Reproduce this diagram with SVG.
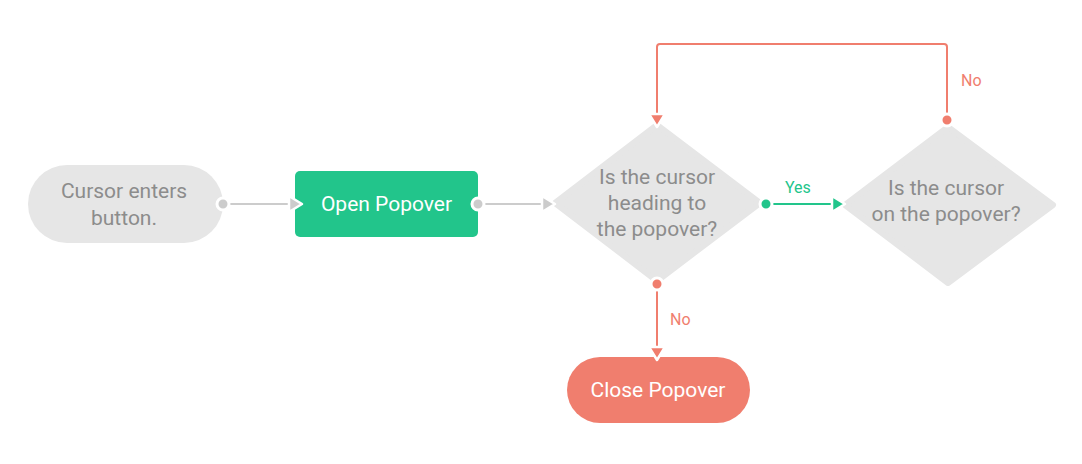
<svg xmlns="http://www.w3.org/2000/svg" width="1082" height="464" viewBox="0 0 1082 464">
<style>
.t{font-family:Roboto,"Liberation Sans",sans-serif;font-size:21px;text-anchor:middle}
.g{fill:#8c8c8c}
.w{fill:#ffffff}
.lbl{font-family:Roboto,"Liberation Sans",sans-serif;font-size:16px}
.node{fill:#e6e6e6}
.ln{fill:none;stroke-width:2}
.dot{stroke:#fff;stroke-width:3}
.ah{stroke:#fff;stroke-width:2.5;stroke-linejoin:round}
</style>
<rect width="1082" height="464" fill="#fff"/>
<g id="start">
<rect class="node" x="28" y="165" width="195" height="78" rx="39"/>
<text class="t g" x="124" y="198">Cursor enters</text>
<text class="t g" x="124" y="225">button.</text>
</g>
<g id="open">
<rect x="295" y="171" width="183" height="66" rx="5" fill="#22c58b"/>
<text class="t w" x="386.5" y="211">Open Popover</text>
</g>
<g id="decision1">
<path class="node" d="M555 203 L657 125 L760 203 L657 281 Z" stroke="#e6e6e6" stroke-width="6" stroke-linejoin="round"/>
<text class="t g" x="657" y="184">Is the cursor</text>
<text class="t g" x="657" y="210">heading to</text>
<text class="t g" x="657" y="236">the popover?</text>
</g>
<g id="decision2">
<path class="node" d="M845 205 L948 127 L1053 205 L948 283 Z" stroke="#e6e6e6" stroke-width="6" stroke-linejoin="round"/>
<text class="t g" x="946" y="195">Is the cursor</text>
<text class="t g" x="946" y="221">on the popover?</text>
</g>
<g id="close">
<rect x="567" y="357" width="183" height="66" rx="33" fill="#f07e6e"/>
<text class="t w" x="658" y="397">Close Popover</text>
</g>
<g id="connectors">
<line class="ln" x1="223" y1="204" x2="292" y2="204" stroke="#cccccc"/>
<circle class="dot" cx="223" cy="204" r="6" fill="#cccccc"/>
<path class="ah" d="M289 196 L302 204 L289 212 Z" fill="#cccccc"/>
<line class="ln" x1="478" y1="204" x2="546" y2="204" stroke="#cccccc"/>
<circle class="dot" cx="478" cy="204" r="6" fill="#cccccc"/>
<path class="ah" d="M542 196 L555 204 L542 212 Z" fill="#cccccc"/>
<line class="ln" x1="766" y1="204" x2="836" y2="204" stroke="#22c58b"/>
<circle class="dot" cx="766" cy="204" r="6" fill="#22c58b"/>
<path class="ah" d="M832 196 L845 204 L832 212 Z" fill="#22c58b"/>
<text class="lbl" x="785" y="193" fill="#22c58b">Yes</text>
<path class="ln" d="M947 120 L947 47 Q947 44 944 44 L660 44 Q657 44 657 47 L657 118" stroke="#f07e6e"/>
<circle class="dot" cx="947" cy="120" r="6" fill="#f07e6e"/>
<path class="ah" d="M649 114 L657 127 L665 114 Z" fill="#f07e6e"/>
<text class="lbl" x="961" y="86" fill="#f07e6e">No</text>
<line class="ln" x1="657" y1="284" x2="657" y2="350" stroke="#f07e6e"/>
<circle class="dot" cx="657" cy="284" r="6" fill="#f07e6e"/>
<path class="ah" d="M649 347 L657 360 L665 347 Z" fill="#f07e6e"/>
<text class="lbl" x="670" y="325" fill="#f07e6e">No</text>
</g>
</svg>
